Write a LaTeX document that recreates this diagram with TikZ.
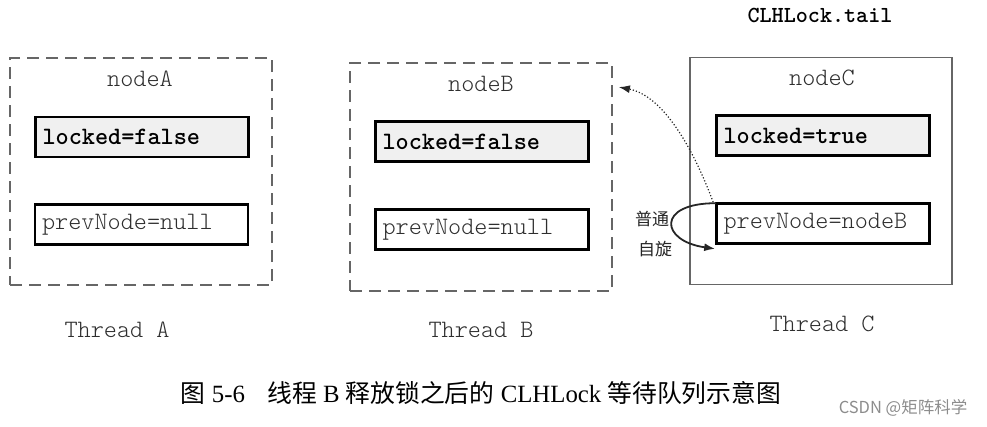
\documentclass[tikz,border=0pt]{standalone}
\usepackage{fontspec}
\setmainfont{Liberation Serif}
\setmonofont{Latin Modern Mono Light}
\newfontfamily\cjk{Noto Sans CJK SC}
\usetikzlibrary{arrows.meta}
\definecolor{boxgray}{HTML}{666666}
\definecolor{textgray}{HTML}{2E2E2E}
\definecolor{fieldfill}{HTML}{F0F0F0}

\begin{document}
\begin{tikzpicture}[x=1pt, y=-1pt]
        \tikzstyle{outer} = [draw=boxgray, line width=1.8pt, minimum width=262pt, minimum height=227pt, inner sep=0pt]
        \tikzstyle{dashedouter} = [outer, dash pattern=on 12pt off 7pt]
        \tikzstyle{field} = [draw=black, line width=2.6pt, minimum width=213pt, minimum height=40pt, inner sep=0pt, text width=199pt, align=left, font=\ttfamily\fontsize{25}{28}\selectfont]
        \tikzstyle{lockfield} = [field, fill=fieldfill, font=\ttfamily\bfseries\fontsize{25}{28}\selectfont]
        \tikzstyle{title} = [text=textgray, font=\ttfamily\fontsize{25}{28}\selectfont]
        \tikzstyle{blk} = [draw=black!85, line width=1.8pt]
        
        \useasboundingbox (0, 0) rectangle (987, 426);
        
        \node[dashedouter] (node A) at (141, 171.5) {};
        \node[dashedouter, minimum height=228pt] (node B) at (481, 177) {};
        \node[outer] (node C) at (821, 171) {};
        
        \node[title] (name A) at (140, 79) {nodeA};
        \node[title] (name B) at (481, 84) {nodeB};
        \node[title] (name C) at (822, 78) {nodeC};
        
        \node[lockfield] (locked A) at (142, 137) {locked=false};
        \node[field, text=textgray] (prev A) at (141.5, 224.5) {prevNode=null};
        \node[lockfield] (locked B) at (482, 141.5) {locked=false};
        \node[field, text=textgray] (prev B) at (482, 229.5) {prevNode=null};
        \node[lockfield] (locked C) at (823, 135.5) {locked=true};
        \node[field, text=textgray] (prev C) at (823, 223.5) {prevNode=nodeB};
        
        \node[font=\ttfamily\bfseries\fontsize{23}{26}\selectfont] (tail) at (820, 15) {CLHLock.tail};
        
        \node[title] (thread A) at (117, 330) {Thread A};
        \node[title] (thread B) at (481, 330) {Thread B};
        \node[title] (thread C) at (822, 324) {Thread C};
        
        \node[text=black!85, font=\cjk\fontsize{17}{20}\selectfont] (spin 1) at (652, 219) {普通};
        \node[text=black!85, font=\cjk\fontsize{17}{20}\selectfont] (spin 2) at (655, 249) {自旋};
        
        \coordinate (b tip) at ([shift={(6, 25)}]node B.north east);
        \path[blk, line width=1.2pt, dotted, -{Latex[length=11pt, width=8pt]}] ([xshift=-2pt]prev C.north west) .. controls (690, 140) and (660, 95) .. (b tip);
        \path[blk, -{Latex[length=11pt, width=8pt]}] ([xshift=1pt, yshift=-1pt]prev C.north west) .. controls (656, 203) and (660, 241) .. ([yshift=-4pt]prev C.south west);
        
        \node[font=\fontsize{24.8}{28}\selectfont] (caption) at (481, 393) {{\cjk 图} 5-6\hspace{0.9em}{\cjk 线程} B {\cjk 释放锁之后的} CLHLock {\cjk 等待队列示意图}};
        \node[text=black!45, font=\cjk\fontsize{16.5}{19}\selectfont] (watermark) at (903, 408) {CSDN @矩阵科学};
    \end{tikzpicture}
\end{document}
